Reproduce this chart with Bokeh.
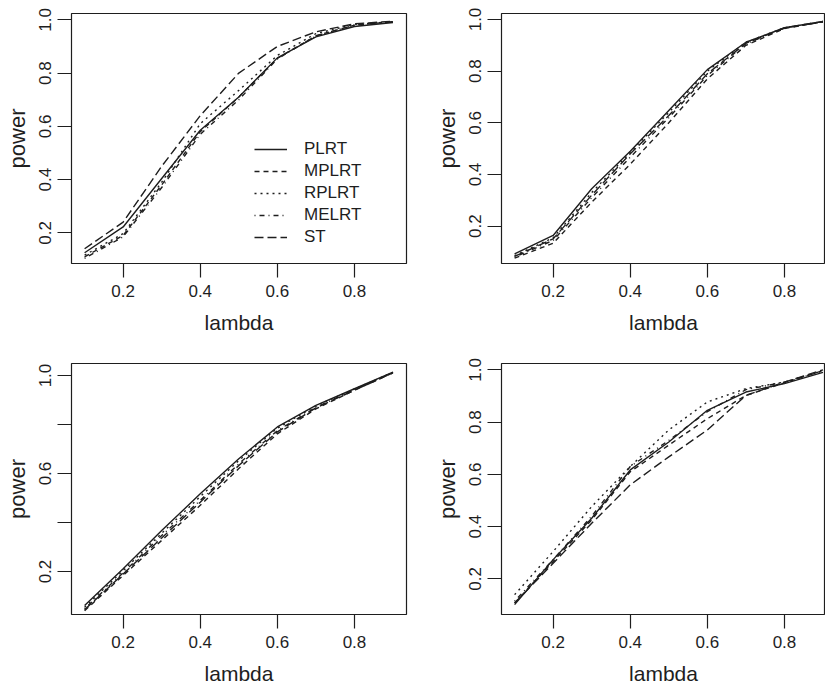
import math
from bokeh.plotting import figure
from bokeh.models import Range1d, FixedTicker, Legend, LegendItem
from bokeh.layouts import column, row
from bokeh.embed import file_html
from bokeh.resources import INLINE

# ---------------- data ----------------
lam = [0.1, 0.2, 0.3, 0.4, 0.5, 0.6, 0.7, 0.8, 0.9]
series_names = ["PLRT", "MPLRT", "RPLRT", "MELRT", "ST"]

# panel 1 (top left)
PLRT_1 = [0.125, 0.222, 0.404, 0.585, 0.710, 0.857, 0.936, 0.975, 0.990]
MPLRT_1 = [0.110, 0.190, 0.380, 0.580, 0.710, 0.855, 0.940, 0.980, 0.993]
RPLRT_1 = [0.116, 0.197, 0.390, 0.610, 0.735, 0.866, 0.948, 0.983, 0.993]
MELRT_1 = [0.104, 0.185, 0.370, 0.570, 0.700, 0.853, 0.940, 0.980, 0.993]
ST_1 = [0.140, 0.240, 0.450, 0.640, 0.800, 0.900, 0.955, 0.985, 0.995]

# panel 2 (top right)
PLRT_2 = [0.093, 0.164, 0.345, 0.490, 0.648, 0.806, 0.912, 0.968, 0.992]
MPLRT_2 = [0.076, 0.134, 0.293, 0.440, 0.600, 0.770, 0.900, 0.965, 0.991]
RPLRT_2 = [0.086, 0.155, 0.330, 0.486, 0.640, 0.800, 0.912, 0.968, 0.992]
MELRT_2 = [0.080, 0.145, 0.310, 0.467, 0.620, 0.783, 0.906, 0.967, 0.991]
ST_2 = [0.083, 0.151, 0.320, 0.480, 0.628, 0.790, 0.908, 0.967, 0.992]

# panel 3 (bottom left)
PLRT_3 = [0.061, 0.211, 0.367, 0.517, 0.660, 0.790, 0.878, 0.946, 1.014]
MPLRT_3 = [0.040, 0.184, 0.327, 0.470, 0.620, 0.762, 0.864, 0.940, 1.011]
RPLRT_3 = [0.054, 0.204, 0.356, 0.506, 0.653, 0.785, 0.876, 0.945, 1.013]
MELRT_3 = [0.048, 0.195, 0.347, 0.490, 0.640, 0.775, 0.870, 0.943, 1.012]
ST_3 = [0.044, 0.190, 0.337, 0.483, 0.633, 0.770, 0.868, 0.940, 1.011]

# panel 4 (bottom right)
PLRT_4 = [0.102, 0.274, 0.432, 0.617, 0.724, 0.845, 0.915, 0.947, 0.990]
MPLRT_4 = [0.108, 0.267, 0.426, 0.610, 0.712, 0.813, 0.902, 0.950, 0.997]
RPLRT_4 = [0.140, 0.305, 0.477, 0.630, 0.770, 0.877, 0.928, 0.953, 0.997]
MELRT_4 = [0.115, 0.274, 0.440, 0.630, 0.730, 0.840, 0.924, 0.953, 0.995]
ST_4 = [0.108, 0.260, 0.413, 0.560, 0.667, 0.770, 0.902, 0.953, 1.000]

x_ticks = [0.2, 0.4, 0.6, 0.8]
x_tick_labels = ["0.2", "0.4", "0.6", "0.8"]
y_ticks = [0.2, 0.4, 0.6, 0.8, 1.0]
y_tick_labels = ["0.2", "0.4", "0.6", "0.8", "1.0"]
y_tick_labels_3 = ["0.2", "", "0.6", "", "1.0"]
x_title = "lambda"
y_title = "power"

# ---------------- style ----------------
FONT = "Liberation Sans"
INK = "#1e1e1e"
DASHES = {"PLRT": "solid", "MPLRT": "5 4", "RPLRT": "2 4", "MELRT": "1 4 5 4", "ST": "9 4"}


def make_panel(data, xr, yr, ylabels, fw, fh, borders, legend=False):
    bl, br, bt, bb = borders
    p = figure(frame_width=fw, frame_height=fh,
               x_range=Range1d(*xr), y_range=Range1d(*yr),
               output_backend="svg", toolbar_location=None,
               min_border_left=bl, min_border_right=br,
               min_border_top=bt, min_border_bottom=bb)
    p.xgrid.visible = False
    p.ygrid.visible = False
    p.background_fill_color = "white"
    p.border_fill_color = "white"
    p.outline_line_color = INK
    p.outline_line_width = 1.2
    p.outline_line_alpha = 1.0

    for ax in (p.xaxis[0], p.yaxis[0]):
        ax.axis_line_color = None
        ax.major_tick_out = 14
        ax.major_tick_in = 0
        ax.minor_tick_line_color = None
        ax.major_tick_line_color = INK
        ax.major_tick_line_width = 1.2
        ax.major_label_text_font = FONT
        ax.major_label_text_font_size = "17px"
        ax.major_label_text_color = INK
        ax.axis_label_text_font = FONT
        ax.axis_label_text_font_style = "normal"
        ax.axis_label_text_color = INK

    xa = p.xaxis[0]
    xa.ticker = FixedTicker(ticks=x_ticks)
    xa.major_label_overrides = {t: s for t, s in zip(x_ticks, x_tick_labels)}
    xa.major_label_standoff = 7
    xa.axis_label = x_title
    xa.axis_label_text_font_size = "21px"
    xa.axis_label_standoff = 11

    ya = p.yaxis[0]
    ya.ticker = FixedTicker(ticks=y_ticks)
    ya.major_label_overrides = {t: s for t, s in zip(y_ticks, ylabels)}
    ya.major_label_orientation = "parallel"
    ya.major_label_standoff = 6
    ya.axis_label = y_title
    ya.axis_label_text_font_size = "22px"
    ya.axis_label_standoff = 7

    items = []
    for name, vals in zip(series_names, data):
        r = p.line(lam, vals, line_color=INK, line_width=1.4, line_dash=DASHES[name])
        items.append(LegendItem(label=name, renderers=[r]))

    if legend:
        lg = Legend(items=items, location=(183, 16),
                    border_line_color=None, background_fill_alpha=0.0,
                    padding=0, margin=0, spacing=2,
                    glyph_width=33, glyph_height=20, label_height=20,
                    label_standoff=17, label_text_font=FONT,
                    label_text_font_size="17px", label_text_color=INK)
        p.add_layout(lg, "center")
    return p


p1 = make_panel([PLRT_1, MPLRT_1, RPLRT_1, MELRT_1, ST_1],
                (0.066, 0.935), (0.0847, 1.0237), y_tick_labels,
                335, 250, (71, 14, 13, 77), legend=True)
p2 = make_panel([PLRT_2, MPLRT_2, RPLRT_2, MELRT_2, ST_2],
                (0.066, 0.9065), (0.0555, 1.0232), y_tick_labels,
                324, 250, (81, 0, 13, 77))
p3 = make_panel([PLRT_3, MPLRT_3, RPLRT_3, MELRT_3, ST_3],
                (0.066, 0.935), (0.0245, 1.049), y_tick_labels_3,
                335, 251, (71, 14, 23, 72))
p4 = make_panel([PLRT_4, MPLRT_4, RPLRT_4, MELRT_4, ST_4],
                (0.066, 0.9065), (0.0641, 1.0241), y_tick_labels,
                324, 251, (81, 0, 23, 72))

layout = column(row(p1, p2), row(p3, p4))
open("out.html", "w").write(file_html(layout, INLINE))
